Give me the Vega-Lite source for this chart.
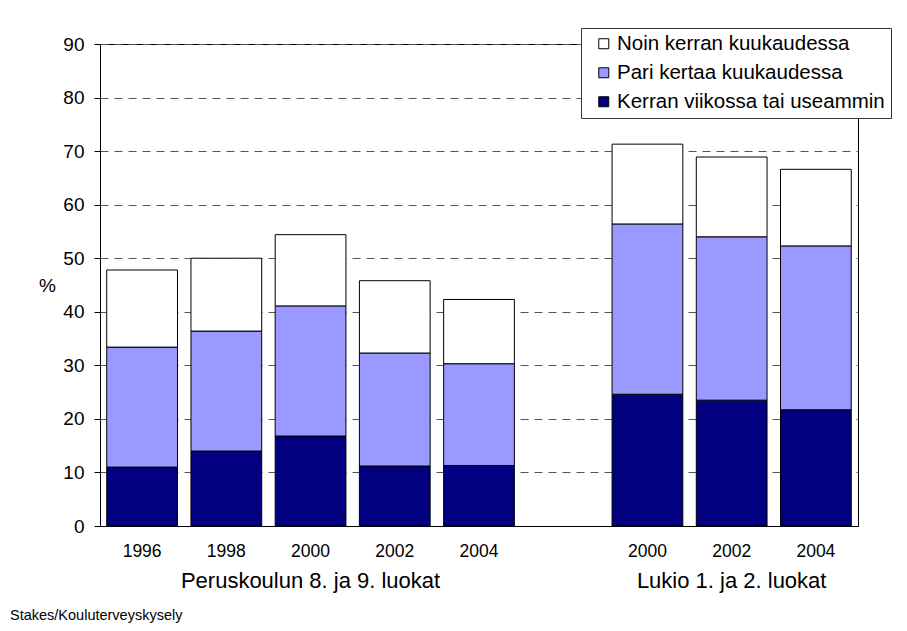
{
  "$schema": "https://vega.github.io/schema/vega-lite/v6.json",
  "width": 758,
  "height": 482,
  "autosize": {"type": "none"},
  "padding": {"left": 100, "top": 44, "right": 49, "bottom": 105},
  "background": "white",
  "config": {
    "font": "Liberation Sans",
    "view": {"stroke": "black", "strokeWidth": 1}
  },
  "title": {
    "text": "Stakes/Kouluterveyskysely",
    "orient": "bottom",
    "anchor": "start",
    "frame": "group",
    "dx": -90,
    "offset": 18,
    "fontSize": 14.5,
    "fontWeight": "normal",
    "color": "black",
    "font": "Liberation Sans"
  },
  "data": {
    "values": [
      {"bar": "P1996", "freq": "Kerran viikossa tai useammin", "level": 1, "pct": 11.0},
      {"bar": "P1996", "freq": "Pari kertaa kuukaudessa", "level": 2, "pct": 22.4},
      {"bar": "P1996", "freq": "Noin kerran kuukaudessa", "level": 3, "pct": 14.4},
      {"bar": "P1998", "freq": "Kerran viikossa tai useammin", "level": 1, "pct": 14.0},
      {"bar": "P1998", "freq": "Pari kertaa kuukaudessa", "level": 2, "pct": 22.4},
      {"bar": "P1998", "freq": "Noin kerran kuukaudessa", "level": 3, "pct": 13.6},
      {"bar": "P2000", "freq": "Kerran viikossa tai useammin", "level": 1, "pct": 16.8},
      {"bar": "P2000", "freq": "Pari kertaa kuukaudessa", "level": 2, "pct": 24.3},
      {"bar": "P2000", "freq": "Noin kerran kuukaudessa", "level": 3, "pct": 13.3},
      {"bar": "P2002", "freq": "Kerran viikossa tai useammin", "level": 1, "pct": 11.2},
      {"bar": "P2002", "freq": "Pari kertaa kuukaudessa", "level": 2, "pct": 21.1},
      {"bar": "P2002", "freq": "Noin kerran kuukaudessa", "level": 3, "pct": 13.5},
      {"bar": "P2004", "freq": "Kerran viikossa tai useammin", "level": 1, "pct": 11.3},
      {"bar": "P2004", "freq": "Pari kertaa kuukaudessa", "level": 2, "pct": 19.0},
      {"bar": "P2004", "freq": "Noin kerran kuukaudessa", "level": 3, "pct": 12.0},
      {"bar": "L2000", "freq": "Kerran viikossa tai useammin", "level": 1, "pct": 24.6},
      {"bar": "L2000", "freq": "Pari kertaa kuukaudessa", "level": 2, "pct": 31.8},
      {"bar": "L2000", "freq": "Noin kerran kuukaudessa", "level": 3, "pct": 14.9},
      {"bar": "L2002", "freq": "Kerran viikossa tai useammin", "level": 1, "pct": 23.5},
      {"bar": "L2002", "freq": "Pari kertaa kuukaudessa", "level": 2, "pct": 30.5},
      {"bar": "L2002", "freq": "Noin kerran kuukaudessa", "level": 3, "pct": 14.9},
      {"bar": "L2004", "freq": "Kerran viikossa tai useammin", "level": 1, "pct": 21.7},
      {"bar": "L2004", "freq": "Pari kertaa kuukaudessa", "level": 2, "pct": 30.6},
      {"bar": "L2004", "freq": "Noin kerran kuukaudessa", "level": 3, "pct": 14.3}
    ]
  },
  "resolve": {"axis": {"x": "independent"}},
  "layer": [
    {
      "mark": {"type": "bar", "stroke": "black", "strokeWidth": 1},
      "encoding": {
        "x": {
          "field": "bar",
          "type": "nominal",
          "scale": {
            "domain": ["P1996", "P1998", "P2000", "P2002", "P2004", "gap", "L2000", "L2002", "L2004"],
            "paddingInner": 0.16,
            "paddingOuter": 0.08
          },
          "axis": {
            "orient": "bottom",
            "title": null,
            "labelExpr": "datum.value == 'gap' ? '' : slice(datum.value, 1)",
            "labelAngle": 0,
            "labelFontSize": 17.5,
            "labelColor": "black",
            "labelBaseline": "top",
            "labelPadding": 16,
            "labelOverlap": false,
            "ticks": false,
            "domain": true,
            "domainColor": "black",
            "domainWidth": 1,
            "grid": false
          }
        },
        "y": {
          "field": "pct",
          "type": "quantitative",
          "stack": "zero",
          "scale": {"domain": [0, 90], "nice": false},
          "axis": {
            "title": "%",
            "titleAngle": 0,
            "titleX": -53,
            "titleY": 241,
            "titleAlign": "center",
            "titleBaseline": "middle",
            "titleFontSize": 19,
            "titleFontWeight": "normal",
            "titleColor": "black",
            "values": [0, 10, 20, 30, 40, 50, 60, 70, 80, 90],
            "labelFontSize": 19,
            "labelColor": "black",
            "labelPadding": 10,
            "tickSize": 6,
            "tickColor": "black",
            "domainColor": "black",
            "grid": true,
            "gridColor": "#555555",
            "gridDash": [8, 6],
            "gridWidth": 1
          }
        },
        "order": {"field": "level", "type": "quantitative", "sort": "ascending"},
        "color": {
          "field": "freq",
          "type": "nominal",
          "sort": ["Noin kerran kuukaudessa", "Pari kertaa kuukaudessa", "Kerran viikossa tai useammin"],
          "scale": {
            "domain": ["Noin kerran kuukaudessa", "Pari kertaa kuukaudessa", "Kerran viikossa tai useammin"],
            "range": ["#FFFFFF", "#9999FF", "#000080"]
          },
          "legend": {
            "title": null,
            "orient": "none",
            "legendX": 481,
            "legendY": -16,
            "direction": "vertical",
            "symbolType": "square",
            "symbolSize": 100,
            "symbolStrokeColor": "black",
            "symbolStrokeWidth": 1,
            "symbolOffset": 7,
            "labelFontSize": 20.5,
            "labelColor": "black",
            "labelOffset": 3,
            "labelLimit": 400,
            "rowPadding": 8,
            "padding": 5.5,
            "strokeColor": "#333333",
            "fillColor": "white"
          }
        }
      }
    },
    {
      "mark": {"type": "bar", "opacity": 0},
      "encoding": {
        "x": {
          "field": "bar",
          "type": "nominal",
          "axis": {
            "orient": "bottom",
            "title": null,
            "labelExpr": "datum.value == 'P2000' ? 'Peruskoulun 8. ja 9. luokat' : datum.value == 'L2002' ? 'Lukio 1. ja 2. luokat' : ''",
            "labelAngle": 0,
            "labelFontSize": 22,
            "labelColor": "black",
            "labelBaseline": "top",
            "labelPadding": 44,
            "labelOverlap": false,
            "labelLimit": 0,
            "labelBound": false,
            "ticks": false,
            "domain": false,
            "grid": false
          }
        }
      }
    }
  ]
}
